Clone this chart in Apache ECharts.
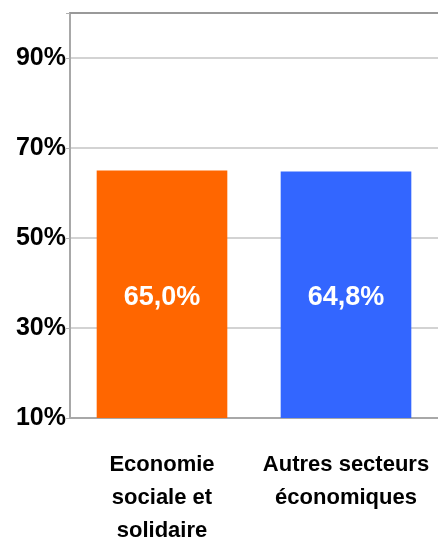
<!DOCTYPE html>
<html>
<head>
<meta charset="utf-8">
<script src="https://cdn.jsdelivr.net/npm/echarts@6/dist/echarts.min.js"></script>
<style>
  html, body { margin: 0; padding: 0; background: #fff; }
  #chart { width: 438px; height: 544px; }
</style>
</head>
<body>
<div id="chart"></div>
<script>
// data
const categories = ["Economie\nsociale et\nsolidaire", "Autres secteurs\néconomiques"];
const values = [65.0, 64.8];
const barColors = ["#ff6600", "#3366ff"];

const chart = echarts.init(document.getElementById("chart"));

const option = {
  backgroundColor: "#fff",
  animation: false,
  grid: { left: 70, right: 0, top: 13, bottom: 126, outerBoundsMode: "none" },
  xAxis: [
    {
      type: "category",
      data: categories,
      axisLine: { lineStyle: { color: "#a8a8a8", width: 2 } },
      axisTick: { length: 9, lineStyle: { color: "#999", width: 1.5 } },
      axisLabel: {
        interval: 0,
        color: "#000",
        fontFamily: "Liberation Sans",
        fontWeight: "bold",
        fontSize: 22,
        lineHeight: 33,
        margin: 30,
      },
    },
    {
      type: "category",
      position: "top",
      data: categories,
      axisLine: { lineStyle: { color: "#999", width: 2 } },
      axisTick: { show: false },
      axisLabel: { show: false },
    },
  ],
  yAxis: {
    type: "value",
    min: 10,
    max: 100,
    interval: 20,
    axisLine: { show: true, lineStyle: { color: "#a8a8a8", width: 2 } },
    axisTick: { show: true, length: 4, lineStyle: { color: "#b0b0b0" } },
    splitLine: { lineStyle: { color: "#c4c4c4", width: 1.5 } },
    axisLabel: {
      color: "#000",
      fontFamily: "Liberation Sans",
      fontWeight: "bold",
      fontSize: 25,
      margin: 4,
      formatter: (v) => (v === 100 ? "" : v + "%"),
    },
  },
  series: [
    {
      type: "bar",
      barWidth: "71%",
      data: values.map((v, i) => ({ value: v, itemStyle: { color: barColors[i] } })),
      label: {
        show: true,
        position: "inside",
        offset: [0, 3],
        color: "#fff",
        fontFamily: "Liberation Sans",
        fontWeight: "bold",
        fontSize: 27,
        formatter: (p) => p.value.toFixed(1).replace(".", ",") + "%",
      },
    },
  ],
};

chart.setOption(option);
</script>
</body>
</html>
